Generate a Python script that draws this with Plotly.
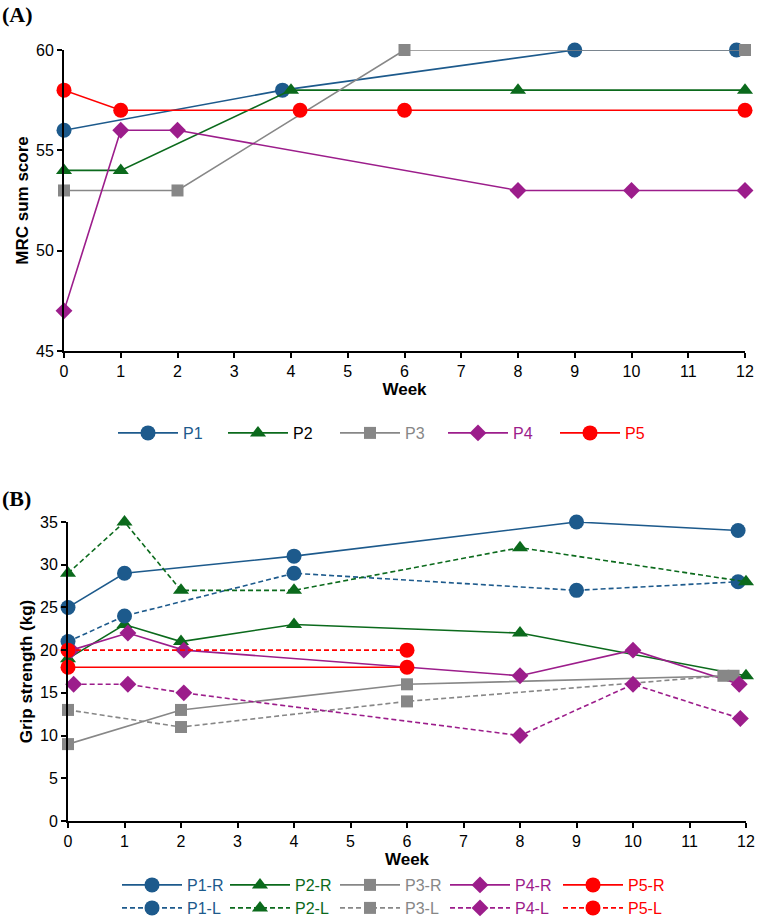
import plotly.graph_objects as go

# ---------------- Panel A: MRC sum score ----------------
weeks_p1_a = [0, 3.85, 9, 11.85]
mrc_p1 = [56, 58, 60, 60]
weeks_p2_a = [0, 1, 4, 8, 12]
mrc_p2 = [54, 54, 58, 58, 58]
weeks_p3_a = [0, 2, 6, 12]
mrc_p3 = [53, 53, 60, 60]
weeks_p4_a = [0, 1, 2, 8, 10, 12]
mrc_p4 = [47, 56, 56, 53, 53, 53]
weeks_p5_a = [0, 1, 4.16, 6, 12]
mrc_p5 = [58, 57, 57, 57, 57]

# ---------------- Panel B: Grip strength ----------------
weeks_p1_b = [0, 1, 4, 9, 11.86]
grip_p1_r = [25, 29, 31, 35, 34]
grip_p1_l = [21, 24, 29, 27, 28]
weeks_p2r_b = [0, 1, 2, 4, 8, 12]
grip_p2_r = [19, 23, 21, 23, 22, 17]
weeks_p2l_b = [0, 1, 2, 4, 8, 12]
grip_p2_l = [29, 35, 27, 27, 32, 28]
weeks_p3r_b = [0, 2, 6, 11.78]
grip_p3_r = [9, 13, 16, 17]
weeks_p3l_b = [0, 2, 6, 11.6]
grip_p3_l = [13, 11, 14, 17]
weeks_p4r_b = [0.06, 1.06, 2.05, 8, 10, 11.88]
grip_p4_r = [20, 22, 20, 17, 20, 16]
weeks_p4l_b = [0.1, 1.06, 2.05, 8, 10, 11.9]
grip_p4_l = [16, 16, 15, 10, 16, 12]
weeks_p5_b = [0, 6]
grip_p5_r = [18, 18]
grip_p5_l = [20, 20]

week_ticks = list(range(0, 13))

BLUE = "#1d5a8c"
GREEN = "#0b6a1c"
GREY = "#878787"
MAGENTA = "#9c1d8b"
RED = "#ff0000"

FONT = "Liberation Sans, Arial, sans-serif"
W, H = 767, 924

SYM = {
    "circle": ("circle", 15),
    "triangle": ("triangle-up", 14),
    "square": ("square", 12),
    "diamond": ("diamond", 13),
}


def px_x(p):
    return p / W


def px_y(p):
    return 1 - p / H


fig = go.Figure()
legend_layouts = {}
legend_count = [0]


def add(x, y, name, color, shape, xa, ya, leg_x, leg_y, dash="solid", text_color=None):
    legend_count[0] += 1
    n = legend_count[0]
    key = "legend" if n == 1 else f"legend{n}"
    symbol, size = SYM[shape]
    fig.add_trace(go.Scatter(
        x=x, y=y, mode="lines+markers",
        name=f'<span style="color:{text_color or color}">{name}</span>',
        line=dict(color=color, width=1.6, dash=dash),
        marker=dict(symbol=symbol, size=size, color=color, line=dict(width=0)),
        xaxis=xa, yaxis=ya, legend=key, cliponaxis=False, showlegend=True,
    ))
    legend_layouts[key] = dict(
        x=px_x(leg_x), y=px_y(leg_y), xanchor="left", yanchor="middle",
        orientation="v", itemwidth=60, borderwidth=0, bgcolor="rgba(0,0,0,0)",
        font=dict(family=FONT, size=16),
    )


ROW_A = 433
ROW_B1 = 885
ROW_B2 = 908
DASH = "5px,3px"

# Panel A traces
add(weeks_p1_a, mrc_p1, "P1", BLUE, "circle", "x", "y", 113, ROW_A)
add(weeks_p2_a, mrc_p2, "P2", GREEN, "triangle", "x", "y", 223, ROW_A, text_color="#000000")
add(weeks_p3_a, mrc_p3, "P3", GREY, "square", "x", "y", 335, ROW_A)
add(weeks_p4_a, mrc_p4, "P4", MAGENTA, "diamond", "x", "y", 443, ROW_A)
add(weeks_p5_a, mrc_p5, "P5", RED, "circle", "x", "y", 555, ROW_A)

# Panel B traces (right)
add(weeks_p1_b, grip_p1_r, "P1-R", BLUE, "circle", "x2", "y2", 117, ROW_B1)
add(weeks_p2r_b, grip_p2_r, "P2-R", GREEN, "triangle", "x2", "y2", 225, ROW_B1)
add(weeks_p3r_b, grip_p3_r, "P3-R", GREY, "square", "x2", "y2", 335, ROW_B1)
add(weeks_p4r_b, grip_p4_r, "P4-R", MAGENTA, "diamond", "x2", "y2", 445, ROW_B1)
add(weeks_p5_b, grip_p5_r, "P5-R", RED, "circle", "x2", "y2", 558, ROW_B1)
# Panel B traces (left)
add(weeks_p1_b, grip_p1_l, "P1-L", BLUE, "circle", "x2", "y2", 117, ROW_B2, dash=DASH)
add(weeks_p2l_b, grip_p2_l, "P2-L", GREEN, "triangle", "x2", "y2", 225, ROW_B2, dash=DASH)
add(weeks_p3l_b, grip_p3_l, "P3-L", GREY, "square", "x2", "y2", 335, ROW_B2, dash=DASH)
add(weeks_p4l_b, grip_p4_l, "P4-L", MAGENTA, "diamond", "x2", "y2", 445, ROW_B2, dash=DASH)
add(weeks_p5_b, grip_p5_l, "P5-L", RED, "circle", "x2", "y2", 558, ROW_B2, dash=DASH)

axis_common = dict(
    showgrid=False, zeroline=False, showline=True, linecolor="black", linewidth=2,
    ticks="outside", ticklen=5, tickwidth=2, tickcolor="black",
    tickfont=dict(family=FONT, size=16, color="black"),
)
title_font = dict(family=FONT, size=17, color="black")

fig.update_layout(
    width=W, height=H, margin=dict(l=0, r=0, t=0, b=0, autoexpand=False),
    showlegend=True,
    paper_bgcolor="white", plot_bgcolor="white",
    font=dict(family=FONT, size=16, color="black"),
    xaxis=dict(domain=[px_x(64), px_x(745)], range=[0, 12], tickvals=week_ticks,
               anchor="y",
               title=dict(text="<b>Week</b>", standoff=2, font=title_font),
               **axis_common),
    yaxis=dict(domain=[px_y(351), px_y(50)], range=[45, 60], tickvals=[45, 50, 55, 60],
               anchor="x",
               title=dict(text="<b>MRC sum score</b>", standoff=3, font=title_font),
               **axis_common),
    xaxis2=dict(domain=[px_x(68), px_x(746)], range=[0, 12], tickvals=week_ticks,
                anchor="y2",
                title=dict(text="<b>Week</b>", standoff=1, font=title_font),
                **axis_common),
    yaxis2=dict(domain=[px_y(821), px_y(522)], range=[0, 35], tickvals=[0, 5, 10, 15, 20, 25, 30, 35],
                anchor="x2",
                title=dict(text="<b>Grip strength (kg)</b>", standoff=3, font=title_font),
                **axis_common),
    annotations=[
        dict(text="<b>(A)</b>", x=0, y=px_y(0), xref="paper", yref="paper",
             xanchor="left", yanchor="top", showarrow=False,
             font=dict(family="Liberation Serif, Times New Roman, serif", size=22, color="black")),
        dict(text="<b>(B)</b>", x=0, y=px_y(484), xref="paper", yref="paper",
             xanchor="left", yanchor="top", showarrow=False,
             font=dict(family="Liberation Serif, Times New Roman, serif", size=22, color="black")),
    ],
    **legend_layouts,
)

fig.write_html("out.html")
